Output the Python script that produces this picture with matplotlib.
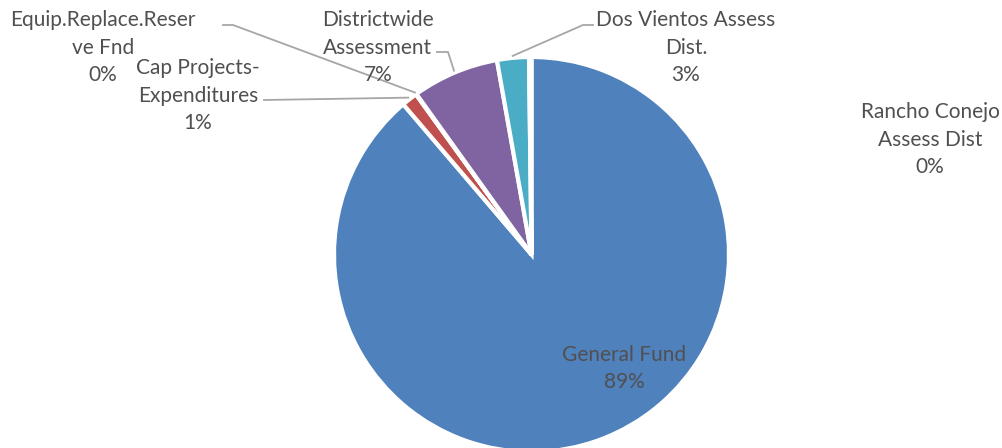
import numpy as np
import matplotlib
matplotlib.use('Agg')
import matplotlib.pyplot as plt

# fund shares (percent of total), pie order clockwise from 12 o'clock
funds = ['General Fund', 'Cap Projects-\nExpenditures', 'Equip.Replace.Reser\nve Fnd',
         'Districtwide\nAssessment', 'Dos Vientos Assess\nDist.', 'Rancho Conejo\nAssess Dist']
shares = [88.75, 1.3, 0.05, 7.1, 2.6, 0.2]
pct_labels = ['89%', '1%', '0%', '7%', '3%', '0%']

colors = ['#4F81BD', '#C0504D', '#9BBB59', '#8064A2', '#4BACC6', '#F79646']

TEXT_COLOR = '#505050'
LINE_COLOR = '#A6A6A6'
W, H = 1002, 448
CENTER = (531.5, 254.5)   # pixels from top-left
RADIUS = 197.5
LINE_PITCH = 27.5         # px between label lines

# label centre x and first-line y (pixels from top-left)
label_pos = {
    0: (624, 355),
    1: (198, 68),
    2: (103, 20),
    3: (378, 20),
    4: (686, 20),
    5: (930, 112),
}
leader_start = {
    1: [(264, 100)],
    2: [(223, 25), (233, 25)],
    3: [(437, 52), (448, 52)],
    4: [(593, 25), (583, 25)],
}


def flip(p):
    # pixel (top-left origin) -> data coords (bottom-left origin)
    return (p[0], H - p[1])


plt.rcParams['font.family'] = ['Lato', 'DejaVu Sans']

fig = plt.figure(figsize=(W / 100, H / 100), dpi=100)
ax = fig.add_axes([0, 0, 1, 1])

cx, cy = flip(CENTER)
wedges, _ = ax.pie(shares, colors=colors, startangle=90, counterclock=False,
                   center=(cx, cy), radius=RADIUS, frame=True,
                   wedgeprops=dict(edgecolor='white', linewidth=3))
ax.set_xlim(0, W)
ax.set_ylim(0, H)
ax.set_aspect('equal')
ax.axis('off')

for i, w in enumerate(wedges):
    lx, ly = label_pos[i]
    lines = funds[i].split('\n') + [pct_labels[i]]
    for k, line in enumerate(lines):
        x, y = flip((lx, ly + k * LINE_PITCH))
        ax.text(x, y, line, ha='center', va='center',
                fontsize=15, color=TEXT_COLOR)
    if i in leader_start:
        mid = np.deg2rad((w.theta1 + w.theta2) / 2.0)
        ex = cx + (RADIUS + 2) * np.cos(mid)
        ey = cy + (RADIUS + 2) * np.sin(mid)
        pts = [flip(p) for p in leader_start[i]] + [(ex, ey)]
        xs, ys = zip(*pts)
        ax.plot(xs, ys, color=LINE_COLOR, linewidth=1.3)

fig.savefig('out.png', dpi=100)
